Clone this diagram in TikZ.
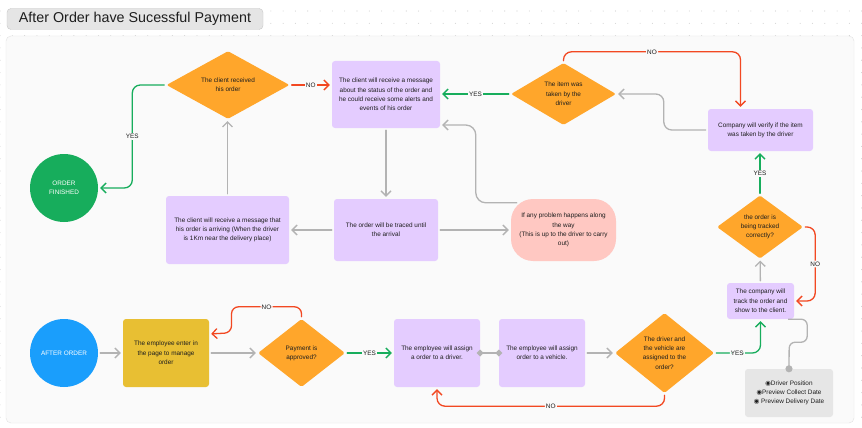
\documentclass[tikz,border=0pt]{standalone}
\usepackage{fontspec}
\setmainfont{Liberation Sans}
\newfontfamily\symfont{DejaVu Sans}
\usetikzlibrary{shapes.geometric,arrows.meta}

\definecolor{ink}{HTML}{1E1E1E}
\definecolor{lilac}{HTML}{E4CCFF}
\definecolor{amber}{HTML}{FFA62B}
\definecolor{mustard}{HTML}{E8BF33}
\definecolor{blush}{HTML}{FFC8C2}
\definecolor{leaf}{HTML}{17AD5C}
\definecolor{sky}{HTML}{1A9EFC}
\definecolor{rust}{HTML}{F24822}
\definecolor{ash}{HTML}{B3B3B3}
\definecolor{paper}{HTML}{FAFAFA}
\definecolor{fog}{HTML}{E6E6E6}

\tikzset{
  txt/.style={font=\fontsize{6.4}{9.3}\selectfont, text=ink, align=center},
  pbox/.style={txt, fill=lilac, rounded corners=3, inner sep=0pt},
  dmd/.style={txt, diamond, fill=amber, inner sep=0pt, rounded corners=1.5},
  endpoint/.style={txt, circle, text=white, inner sep=0pt, minimum size=68},
  lbl/.style={txt, fill=paper, inner sep=1.2pt},
  link/.style={line width=1.3, line cap=round, shorten >=2, shorten <=2,
    -{Straight Barb[length=5pt,width=10pt]}},
  garrow/.style={link, draw=ash},
  yarrow/.style={link, draw=leaf},
  narrow/.style={link, draw=rust},
}

\begin{document}
\begin{tikzpicture}[x=1pt, y=-1pt]
\useasboundingbox (0,0) rectangle (862,428);
\fill[white] (0,0) rectangle (862,428);
% dotted canvas
\foreach \i in {0,...,70}
  \foreach \j in {0,...,35}
    \fill[black!18] (12.31*\i,-1.3+12.31*\j) circle (0.55);

% board and title
\draw[draw=black!11, fill=paper, rounded corners=5] (6,36) rectangle (854,423);
\node[draw=black!22, fill=black!10, rounded corners=4, minimum width=256, minimum height=21,
  inner sep=0pt, font=\fontsize{14.3}{16}\selectfont, text=ink] (title) at (135,19)
  {After Order have Sucessful Payment};

% top row
\node[dmd, minimum width=123, minimum height=67] (recv) at (228,85) {The client received\\his order};
\node[pbox, minimum width=108, minimum height=67] (msg) at (386,94.5)
  {The client will receive a message\\about the status of the order and\\he could receive some alerts and\\events of his order};
\node[dmd, minimum width=105, minimum height=62] (taken) at (563.5,94) {The item was\\taken by the\\driver};
\node[pbox, minimum width=105, minimum height=42] (verify) at (760.5,130)
  {Company will verify if the item\\was taken by the driver};
\node[endpoint, fill=leaf] (finished) at (64,188) {ORDER\\FINISHED};

% middle row
\node[pbox, minimum width=123, minimum height=68] (arriving) at (227.5,230)
  {The client will receive a message that\\his order is arriving (When the driver\\is 1Km near the delivery place)};
\node[pbox, minimum width=104, minimum height=62] (traced) at (386,230) {The order will be traced until\\the arrival};
\node[txt, fill=blush, rounded corners=22, inner sep=0pt, minimum width=105, minimum height=62] (problem) at (563.5,230)
  {If any problem happens along\\the way\\(This is up to the driver to carry\\out)};
\node[dmd, minimum width=86, minimum height=62] (tracked) at (760,227) {the order is\\being tracked\\correctly?};
\node[pbox, minimum width=67, minimum height=36] (track) at (760.5,301) {The company will\\track the order and\\show to the client.};

% bottom row
\node[endpoint, fill=sky] (start) at (64,353) {AFTER ORDER};
\node[txt, fill=mustard, rounded corners=3, inner sep=0pt, minimum width=86, minimum height=68] (enter) at (166,353)
  {The employee enter in\\the page to manage\\order};
\node[dmd, minimum width=87, minimum height=68] (pay) at (301.5,353) {Payment is\\approved?};
\node[pbox, minimum width=86, minimum height=68] (driver) at (437,353) {The employee will assign\\a order to a driver.};
\node[pbox, minimum width=86, minimum height=68] (vehicle) at (542,353) {The employee will assign\\order to a vehicle.};
\node[dmd, minimum width=99, minimum height=80] (assigned) at (664.5,353) {The driver and\\the vehicle are\\assigned to the\\order?};
\node[txt, fill=fog, rounded corners=3, inner sep=0pt, minimum width=88, minimum height=48] (info) at (789,393)
  {{\symfont ◉}Driver Position\\{\symfont ◉}Preview Collect Date\\{\symfont ◉} Preview Delivery Date};

% connectors, bottom row
\draw[garrow] (start) -- (enter);
\draw[garrow] (enter) -- (pay);
\draw[narrow, rounded corners=7] (pay.north) -- ++(0,-12) -| node[lbl, pos=0.25] {NO} ++(-70,26)
  -- ([yshift=19]enter.east);
\draw[yarrow] (pay) -- node[lbl] {YES} (driver);
\draw[draw=ash, line width=1.3, shorten <=-3.5, shorten >=-3.5,
  {Diamond[length=7pt,width=7pt,fill=ash]}-{Diamond[length=7pt,width=7pt,fill=ash]}] (driver.east) -- (vehicle.west);
\draw[garrow] (vehicle) -- (assigned);
\draw[narrow, rounded corners=8] (assigned.south) -- ++(0,13) -| node[lbl, pos=0.25] {NO} (driver.south);
\draw[yarrow, rounded corners=8] (assigned.east) -| node[lbl, pos=0.25] {YES} (track.south);
\draw[draw=ash, line width=1.3, rounded corners=6, shorten >=-3.5, -{Circle[length=7pt,width=7pt]}]
  ([xshift=-6]track.south east) -- ++(19,0) -- ++(0,23) -- ++(-18,0) -- (info.north -| {789,0});

% connectors, right column
\draw[garrow] (track) -- (tracked);
\draw[narrow, rounded corners=8] (tracked.east) -- ++(12,0) |- node[lbl, pos=0.25] {NO} (track.east);
\draw[yarrow] (tracked.north) -- node[lbl] {YES} (tracked.north |- verify.south);
\draw[garrow, rounded corners=8] (verify.west) -- ++(-44,0) |- (taken.east);
\draw[narrow, rounded corners=8] (taken.north) -- ++(0,-11) -| node[lbl, pos=0.25] {NO} ([xshift=-20]verify.north);

% connectors, top and middle
\draw[yarrow] (taken.west) -- node[lbl] {YES} (taken.west -| msg.east);
\draw[narrow] (recv.east) -- node[lbl] {NO} (recv.east -| msg.west);
\draw[yarrow, rounded corners=8] (recv.west) -- ++(-34,0) |- node[lbl, pos=0.25] {YES} (finished.east);
\draw[garrow] (msg.south) -- (msg.south |- traced.north);
\draw[garrow] (traced.west) -- (traced.west -| arriving.east);
\draw[garrow] (traced.east) -- (traced.east -| problem.west);
\draw[garrow, rounded corners=10] ([xshift=8,yshift=-4]problem.north west) -- ++(-43,0)
  |- ([yshift=-30.5]msg.east);
\draw[garrow] (arriving.north) -- (arriving.north |- recv.south);
\end{tikzpicture}
\end{document}
